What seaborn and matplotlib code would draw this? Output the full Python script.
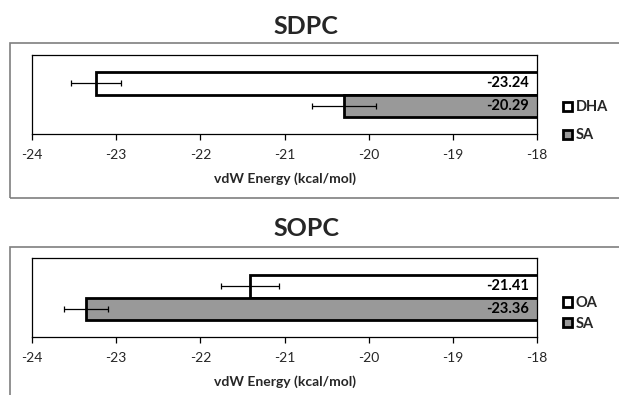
import matplotlib
matplotlib.use("Agg")
import matplotlib.pyplot as plt
import seaborn as sns
from matplotlib.patches import Patch, Rectangle

# ---- data ----
sdpc_cats = ["DHA", "SA"]
sdpc_vals = [-23.24, -20.29]
sdpc_errs = [0.30, 0.38]

sopc_cats = ["OA", "SA"]
sopc_vals = [-21.41, -23.36]
sopc_errs = [0.35, 0.26]

titles = ["SDPC", "SOPC"]
xticks = [-24, -23, -22, -21, -20, -19, -18]
xlabel = "vdW Energy (kcal/mol)"
colors = ["#ffffff", "#999999"]

sns.set_theme(style="white")
plt.rcParams["font.family"] = ["Lato", "DejaVu Sans"]

W, H = 619, 395
fig = plt.figure(figsize=(W / 100, H / 100), dpi=100)

def fx(px):
    return px / W

def fy(py):
    return 1 - py / H

# outer chart frames
fig.patches.append(Rectangle((fx(10), fy(198)), fx(700), (198 - 43) / H,
                             transform=fig.transFigure, fill=False,
                             edgecolor="#7f7f7f", linewidth=1.2))
fig.patches.append(Rectangle((fx(10), fy(420)), fx(700), (420 - 247) / H,
                             transform=fig.transFigure, fill=False,
                             edgecolor="#7f7f7f", linewidth=1.2))

panels = [
    dict(cats=sdpc_cats, vals=sdpc_vals, errs=sdpc_errs, title=titles[0],
         top=55, bot=134, title_y=27, leg_y=0.16, leg_sp=0.95),
    dict(cats=sopc_cats, vals=sopc_vals, errs=sopc_errs, title=titles[1],
         top=258, bot=337, title_y=229, leg_y=0.30, leg_sp=0.45),
]

for p in panels:
    ax = fig.add_axes([fx(32), fy(p["bot"]), fx(537 - 32), (p["bot"] - p["top"]) / H])
    sns.barplot(x=p["vals"], y=p["cats"], hue=p["cats"], palette=colors,
                orient="h", width=1.0, edgecolor="black", linewidth=2.0,
                legend=False, ax=ax, saturation=1)
    ax.errorbar(p["vals"], range(len(p["cats"])), xerr=p["errs"], fmt="none",
                ecolor="black", elinewidth=0.9, capsize=2.0, capthick=0.9,
                zorder=5)
    for i, v in enumerate(p["vals"]):
        ax.annotate(f"{v:.2f}", xy=(-18, i), xytext=(-5.5, 0),
                    textcoords="offset points", ha="right", va="center",
                    fontsize=10.5, fontweight="bold", color="black")
    ax.set_xlim(-24, -18)
    ax.set_ylim(2.24, -1.24)
    ax.set_xticks(xticks)
    ax.set_xticklabels([str(t) for t in xticks], fontsize=10)
    ax.set_yticks([])
    ax.set_ylabel("")
    ax.set_xlabel(xlabel, fontsize=10, fontweight="bold", labelpad=8)
    ax.tick_params(axis="x", direction="out", length=4, width=0.9,
                   color="black", pad=7, bottom=True)
    for s in ax.spines.values():
        s.set_visible(True)
        s.set_color("black")
        s.set_linewidth(0.9)
    handles = [Patch(facecolor=c, edgecolor="black", linewidth=2.0) for c in colors]
    ax.legend(handles, p["cats"], loc="center left",
              bbox_to_anchor=(1.052, p["leg_y"]), frameon=False,
              prop={"weight": "bold", "size": 10.5}, handlelength=0.6,
              handleheight=0.6, handletextpad=0.25, labelspacing=p["leg_sp"],
              borderpad=0, borderaxespad=0)
    fig.text(fx(306), fy(p["title_y"]), p["title"], ha="center", va="center",
             fontsize=18, fontweight="bold")

fig.savefig("out.png", dpi=100)
